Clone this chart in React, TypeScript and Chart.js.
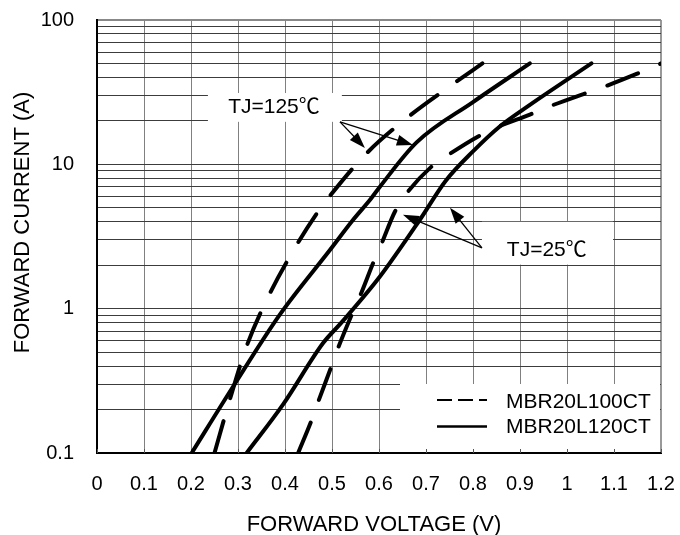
import React, { useEffect, useRef } from 'react';
import { Chart, registerables } from 'chart.js';

Chart.register(...registerables);

const FONT = '"Liberation Sans", Arial, "Noto Sans CJK SC", sans-serif';

// ---- axis ticks ----
const xTickValues = [0, 0.1, 0.2, 0.3, 0.4, 0.5, 0.6, 0.7, 0.8, 0.9, 1.0, 1.1, 1.2];
const xTickLabels = ['0', '0.1', '0.2', '0.3', '0.4', '0.5', '0.6', '0.7', '0.8', '0.9', '1', '1.1', '1.2'];
const yGridValues = [
  0.1, 0.2, 0.3, 0.4, 0.5, 0.6, 0.7, 0.8, 0.9,
  1, 2, 3, 4, 5, 6, 7, 8, 9,
  10, 20, 30, 40, 50, 60, 70, 80, 90,
  100,
];
const yLabelValues = [0.1, 1, 10, 100];
const yLabelTexts = ['0.1', '1', '10', '100'];

const xTitle = 'FORWARD VOLTAGE (V)';
const yTitle = 'FORWARD CURRENT (A)';

// ---- series ----
const seriesNames = ['MBR20L100CT', 'MBR20L120CT'];

// MBR20L100CT, TJ=125℃ (dashed)
const v100Hot = [0.25, 0.283, 0.319, 0.367, 0.425, 0.467, 0.492, 0.57, 0.659, 0.755, 0.82];
const i100Hot = [0.1, 0.237, 0.557, 1.26, 2.77, 4.54, 5.84, 11.6, 20.9, 35.5, 50];

// MBR20L120CT, TJ=125℃ (solid)
const v120Hot = [0.2015, 0.29, 0.389, 0.496, 0.545, 0.581, 0.602, 0.68, 0.8, 0.921];
const i120Hot = [0.1, 0.29, 0.91, 2.56, 4.13, 5.68, 7.0, 14.2, 27, 50];

// MBR20L100CT, TJ=25℃ (dashed)
const v100Cold = [0.428, 0.457, 0.471, 0.499, 0.513, 0.542, 0.563, 0.588, 0.606, 0.634, 0.659, 0.712, 0.747, 0.811, 0.85, 0.921, 0.96, 1.035, 1.074, 1.148, 1.2];
const i100Cold = [0.1, 0.17, 0.228, 0.4, 0.535, 0.91, 1.3, 2.09, 2.85, 4.71, 6.3, 9.66, 11.6, 15.6, 18.0, 22.1, 25, 30.7, 34, 42.3, 50];

// MBR20L120CT, TJ=25℃ (solid)
const v120Cold = [0.3185, 0.396, 0.4815, 0.52, 0.602, 0.687, 0.742, 0.8, 0.857, 0.921, 1.052];
const i120Cold = [0.1, 0.217, 0.58, 0.8, 1.67, 4.13, 7.7, 12.3, 18.3, 25.8, 50];

const noteTexts = ['TJ=125℃', 'TJ=25℃'];

// annotation geometry in data space (voltage, current)
const notes = [
  {
    text: noteTexts[0],
    box: { x0: 0.236, x1: 0.521, y0: 19.7, y1: 31.2 },
    textAt: { x: 0.279, y: 25.0 },
    from: { x: 0.517, y: 19.7 },
    to: [{ x: 0.57, y: 13.0 }, { x: 0.672, y: 13.6 }],
  },
  {
    text: noteTexts[1],
    box: { x0: 0.819, x1: 1.098, y0: 2.02, y1: 4.0 },
    textAt: { x: 0.872, y: 2.55 },
    from: { x: 0.819, y: 2.64 },
    to: [{ x: 0.751, y: 5.0 }, { x: 0.651, y: 4.47 }],
  },
];

function drawArrow(ctx: CanvasRenderingContext2D, x0: number, y0: number, x1: number, y1: number) {
  const a = Math.atan2(y1 - y0, x1 - x0);
  const L = 16;
  const W = 5.5;
  const c = Math.cos(a);
  const s = Math.sin(a);
  ctx.beginPath();
  ctx.moveTo(x0, y0);
  ctx.lineTo(x1 - L * 0.7 * c, y1 - L * 0.7 * s);
  ctx.stroke();
  ctx.beginPath();
  ctx.moveTo(x1, y1);
  ctx.lineTo(x1 - L * c + W * s, y1 - L * s - W * c);
  ctx.lineTo(x1 - L * c - W * s, y1 - L * s + W * c);
  ctx.closePath();
  ctx.fill();
}

const overlayPlugin = {
  id: 'overlay',
  beforeDatasetsDraw(chart: any) {
    const { ctx, chartArea: ca, scales } = chart;
    const xs = scales.x;
    const ys = scales.y;
    ctx.save();
    ctx.fillStyle = '#ffffff';
    for (const n of notes) {
      const left = xs.getPixelForValue(n.box.x0);
      const right = xs.getPixelForValue(n.box.x1);
      const top = ys.getPixelForValue(n.box.y1);
      const bottom = ys.getPixelForValue(n.box.y0);
      ctx.fillRect(left, top, right - left, bottom - top);
    }
    // legend box
    ctx.fillRect(ca.right - 261, ca.bottom - 69, 260, 67.5);
    // small inward tick marks along the bottom axis
    ctx.strokeStyle = '#555';
    ctx.lineWidth = 1;
    for (const v of xTickValues) {
      const px = Math.round(xs.getPixelForValue(v)) + 0.5;
      ctx.beginPath();
      ctx.moveTo(px, ca.bottom);
      ctx.lineTo(px, ca.bottom - 4);
      ctx.stroke();
    }
    ctx.restore();
  },
  afterDatasetsDraw(chart: any) {
    const { ctx, chartArea: ca, scales } = chart;
    const xs = scales.x;
    const ys = scales.y;
    ctx.save();
    ctx.fillStyle = '#000';
    ctx.strokeStyle = '#000';
    ctx.lineWidth = 1.3;
    ctx.font = `21px ${FONT}`;
    ctx.textBaseline = 'middle';
    ctx.textAlign = 'left';
    for (const n of notes) {
      ctx.fillText(n.text, xs.getPixelForValue(n.textAt.x), ys.getPixelForValue(n.textAt.y));
      const fx = xs.getPixelForValue(n.from.x);
      const fy = ys.getPixelForValue(n.from.y);
      for (const t of n.to) {
        drawArrow(ctx, fx, fy, xs.getPixelForValue(t.x), ys.getPixelForValue(t.y));
      }
    }
    // legend
    const sx0 = ca.right - 224;
    const sx1 = ca.right - 174;
    const tx = ca.right - 155;
    const rows = [ca.bottom - 53, ca.bottom - 26.5];
    ctx.lineWidth = 2;
    ctx.lineCap = 'butt';
    ctx.setLineDash([15, 6]);
    ctx.beginPath();
    ctx.moveTo(sx0, rows[0]);
    ctx.lineTo(sx1, rows[0]);
    ctx.stroke();
    ctx.setLineDash([]);
    ctx.lineWidth = 2.5;
    ctx.beginPath();
    ctx.moveTo(sx0, rows[1]);
    ctx.lineTo(sx1, rows[1]);
    ctx.stroke();
    ctx.fillText(seriesNames[0], tx, rows[0] + 2.5);
    ctx.fillText(seriesNames[1], tx, rows[1] + 1);
    ctx.restore();
  },
  afterDraw(chart: any) {
    const { ctx, chartArea: ca } = chart;
    ctx.save();
    ctx.fillStyle = '#000';
    ctx.font = `22px ${FONT}`;
    ctx.textAlign = 'center';
    ctx.textBaseline = 'middle';
    ctx.fillText(xTitle, (ca.left + ca.right) / 2 - 5, ca.bottom + 71.5);
    ctx.translate(22.5, (ca.top + ca.bottom) / 2 - 14);
    ctx.rotate(-Math.PI / 2);
    ctx.fillText(yTitle, 0, 0);
    ctx.restore();
  },
};

function makeSeries(label: string, xs: number[], ys: number[], dashed: boolean) {
  return {
    label,
    data: xs.map((v, i) => ({ x: v, y: ys[i] })),
    borderColor: '#000',
    backgroundColor: '#000',
    borderWidth: 4,
    pointRadius: 0,
    pointHoverRadius: 0,
    fill: false,
    cubicInterpolationMode: 'monotone' as const,
    borderDash: dashed ? [33, 24] : [],
    borderCapStyle: 'round' as const,
    borderJoinStyle: 'round' as const,
  };
}

function clearScalePadding(s: any) {
  s.paddingTop = 0;
  s.paddingBottom = 0;
  s.paddingLeft = 0;
  s.paddingRight = 0;
}

export default function App() {
  const ref = useRef<HTMLCanvasElement>(null);

  useEffect(() => {
    if (!ref.current) return;
    const chart = new Chart(ref.current, {
      type: 'line',
      data: {
        datasets: [
          makeSeries(seriesNames[0] + ' 125', v100Hot, i100Hot, true),
          makeSeries(seriesNames[1] + ' 125', v120Hot, i120Hot, false),
          makeSeries(seriesNames[0] + ' 25', v100Cold, i100Cold, true),
          makeSeries(seriesNames[1] + ' 25', v120Cold, i120Cold, false),
        ],
      },
      options: {
        animation: false,
        responsive: false,
        events: [],
        layout: { autoPadding: false, padding: { left: 0, top: 20, right: 19, bottom: 0 } },
        plugins: {
          legend: { display: false },
          tooltip: { enabled: false },
          title: { display: false },
        },
        scales: {
          x: {
            type: 'linear',
            min: 0,
            max: 1.2,
            afterBuildTicks: (s: any) => {
              s.ticks = xTickValues.map((v) => ({ value: v }));
            },
            afterFit: (s: any) => {
              s.height = 82;
              clearScalePadding(s);
            },
            ticks: {
              autoSkip: false,
              maxRotation: 0,
              padding: 19,
              color: '#000',
              font: { family: FONT, size: 20 },
              callback: (_v: any, i: number) => xTickLabels[i],
            },
            grid: {
              drawTicks: false,
              color: (c: any) => (c.tick && c.tick.value === 1.2 ? '#999' : '#808080'),
              lineWidth: (c: any) => (c.tick && c.tick.value === 1.2 ? 2 : 1),
            },
            border: { color: '#000', width: 2 },
          },
          y: {
            type: 'logarithmic',
            min: 0.1,
            max: 100,
            afterBuildTicks: (s: any) => {
              s.ticks = yGridValues.map((v) => ({ value: v }));
            },
            afterFit: (s: any) => {
              s.width = 97;
              clearScalePadding(s);
            },
            ticks: {
              autoSkip: false,
              padding: 23,
              color: '#000',
              font: { family: FONT, size: 20 },
              callback: (v: any) => {
                const k = yLabelValues.indexOf(Number(v));
                return k >= 0 ? yLabelTexts[k] : '';
              },
            },
            grid: {
              drawTicks: false,
              color: (c: any) => (c.tick && c.tick.value === 100 ? '#888' : '#3c3c3c'),
              lineWidth: (c: any) => (c.tick && c.tick.value === 100 ? 2 : 1),
            },
            border: { color: '#000', width: 2 },
          },
        },
      },
      plugins: [overlayPlugin],
    });
    return () => chart.destroy();
  }, []);

  return (
    <div style={{ position: 'absolute', left: 0, top: 0, width: 680, height: 535, background: '#fff' }}>
      <canvas ref={ref} width={680} height={535} style={{ display: 'block', width: 680, height: 535 }} />
    </div>
  );
}
